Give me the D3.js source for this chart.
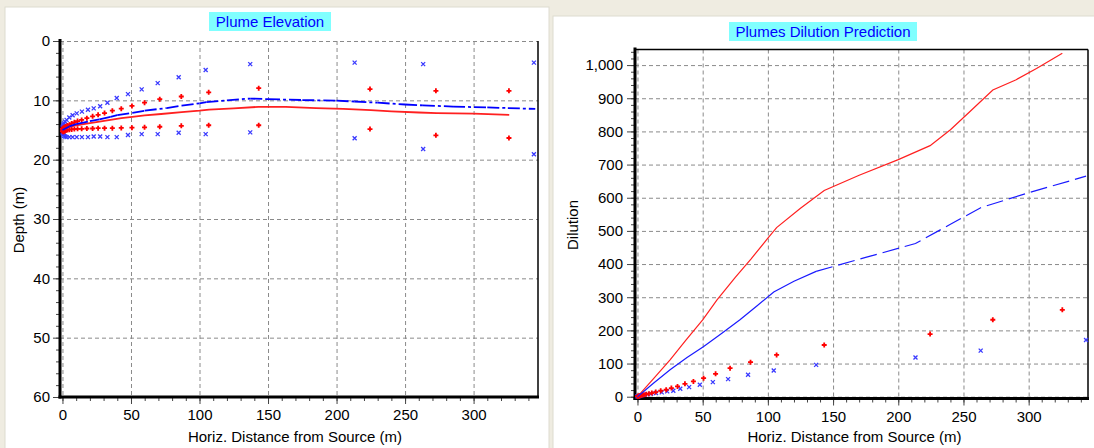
<!DOCTYPE html>
<html>
<head>
<meta charset="utf-8">
<script src="https://cdn.jsdelivr.net/npm/d3@7"></script>
<style>
body { margin: 0; background: #efece1; }
svg { display: block; font-family: "Liberation Sans", Arial, sans-serif; }
</style>
</head>
<body>
<svg id="chart" width="1094" height="448"></svg>
<script>
// plume 1 (red) sample distances, m  - same stations on both charts
var redDist = [0, 0.4, 0.9, 1.6, 2.5, 3.6, 5, 6.7, 8.7, 11, 14, 17.8, 22, 26, 30.7, 36.4, 42.9, 50.7, 59.9, 71, 86.7, 106.7, 143.2, 224.4, 272.5, 325.8];
var redUpper = [14.8, 14.7, 14.6, 14.5, 14.4, 14.25, 14.1, 13.9, 13.7, 13.5, 13.3, 13.0, 12.7, 12.45, 12.15, 11.75, 11.4, 10.95, 10.4, 9.8, 9.35, 8.65, 7.95, 8.1, 8.4, 8.4];
var redLower = [15.2, 15.3, 15.3, 15.2, 15.1, 15.0, 14.95, 14.9, 14.85, 14.8, 14.8, 14.75, 14.75, 14.7, 14.7, 14.7, 14.65, 14.6, 14.55, 14.45, 14.3, 14.2, 14.2, 14.85, 15.9, 16.35];
var redDilPts = [1, 1.5, 2, 3, 4, 5, 6, 7.5, 9, 11, 14, 18, 21, 26, 31, 39, 46, 56, 69, 86, 104, 126, 156, 189, 232, 262];

// plume 2 (blue)
var blueDist = [0, 0.3, 0.7, 1.2, 2, 3, 5, 7.4, 10.4, 14.2, 18.6, 22.8, 27.5, 32.8, 39.6, 47.8, 57.8, 69.5, 84.8, 104.5, 137, 213.2, 263.2, 344];
var blueUpper = [14.6, 14.4, 14.1, 13.9, 13.6, 13.3, 12.9, 12.5, 12.2, 11.9, 11.6, 11.35, 11.0, 10.4, 9.6, 8.95, 8.15, 7.1, 6.1, 4.9, 3.9, 3.65, 3.9, 3.65];
var blueLower = [15.4, 15.6, 15.8, 16.0, 16.1, 16.2, 16.2, 16.2, 16.2, 16.2, 16.2, 16.1, 16.1, 16.2, 16.2, 15.85, 15.7, 15.7, 15.45, 15.7, 15.4, 16.4, 18.2, 19.1];
var blueDilPts = [1, 1.3, 1.7, 2.2, 3, 4, 5.5, 7, 9, 11, 13, 16, 18, 24, 29, 36, 44, 53, 66, 79, 96, 118, 139, 171];

// centerlines
var redLineX = [0, 5, 10, 20, 27, 35, 43, 51, 60, 72, 87, 100, 107, 125, 143, 163, 185, 205, 225, 240, 260, 273, 300, 326];
var redLineDepth = [15.0, 14.5, 14.2, 13.85, 13.6, 13.3, 13.0, 12.8, 12.55, 12.3, 12.0, 11.75, 11.55, 11.35, 11.1, 11.1, 11.3, 11.45, 11.65, 11.85, 12.05, 12.15, 12.25, 12.45];
var blueLineX = [0, 5, 10, 20, 27, 35, 40, 51, 60, 76, 87, 100, 105, 120, 137, 150, 175, 200, 213, 230, 250, 263, 285, 310, 325, 345];
var blueLineDepth = [15.0, 14.4, 14.0, 13.5, 13.2, 12.8, 12.5, 12.1, 11.75, 11.3, 10.9, 10.5, 10.3, 10.0, 9.7, 9.8, 9.95, 10.05, 10.2, 10.4, 10.7, 10.85, 11.05, 11.2, 11.3, 11.45];

// dilution lines
var redDilLineX = [0, 12, 25, 37, 50, 61, 75, 87, 100, 106.7, 125, 143.2, 170, 200, 224.4, 240, 255, 272.5, 290, 306, 325.8];
var redDilLine = [0, 53, 111, 170, 232, 292, 360, 415, 478, 510, 568, 622, 668, 715, 757, 805, 860, 925, 955, 990, 1036];
var blueDilLineX = [0, 12, 25, 38, 50.5, 65, 78.6, 92, 104.5, 120, 137, 175, 213.2, 240, 263.2, 300, 344];
var blueDilLine = [0, 40, 81, 118, 151, 192, 232, 275, 316, 348, 378, 420, 462, 520, 570, 615, 665];

var xTicks = [0, 50, 100, 150, 200, 250, 300];
var depthTicks = [0, 10, 20, 30, 40, 50, 60];
var dilTicks = [0, 100, 200, 300, 400, 500, 600, 700, 800, 900, 1000];

var svg = d3.select("#chart");
var zip = (a, b) => a.map((v, i) => [v, b[i]]);

function drawPanel(o) {
    svg.append("rect").attr("x", o.panel[0]).attr("y", o.panel[1])
        .attr("width", o.panel[2]).attr("height", o.panel[3])
        .attr("fill", "#fff").attr("stroke", "#dedbd0");

    var x = d3.scaleLinear().domain(o.xDomain).range([o.left, o.right]);
    var y = d3.scaleLinear().domain(o.yDomain).range(o.yRange);
    var g = svg.append("g");

    // grid
    g.selectAll(null).data(xTicks).join("line")
        .attr("x1", d => x(d) + 0.5).attr("x2", d => x(d) + 0.5)
        .attr("y1", o.top).attr("y2", o.bottom)
        .attr("stroke", "#8a8a8a").attr("stroke-dasharray", "4,3");
    g.selectAll(null).data(o.yTicks).join("line")
        .attr("x1", o.left).attr("x2", o.right)
        .attr("y1", d => y(d) + 0.5).attr("y2", d => y(d) + 0.5)
        .attr("stroke", "#8a8a8a").attr("stroke-dasharray", "4,3");

    // frame
    g.append("line").attr("x1", o.right).attr("x2", o.right).attr("y1", o.top).attr("y2", o.bottom)
        .attr("stroke", "#000").attr("stroke-width", 1.5);
    if (o.topLine) {
        g.append("line").attr("x1", o.left).attr("x2", o.right).attr("y1", o.top).attr("y2", o.top)
            .attr("stroke", "#000").attr("stroke-width", 1.5);
    }

    // axes
    var yMinor = g.append("g").attr("transform", `translate(${o.left},0)`)
        .call(d3.axisLeft(y).tickValues(o.yMinor).tickSize(4).tickFormat(""));
    var yAxis = g.append("g").attr("transform", `translate(${o.left},0)`)
        .call(d3.axisLeft(y).tickValues(o.yTicks).tickSize(o.yTickSize).tickPadding(o.yPad).tickFormat(o.yFormat));
    var xMinor = g.append("g").attr("transform", `translate(0,${o.bottom})`)
        .call(d3.axisBottom(x).tickValues(d3.range(0, 341, 10)).tickSize(4).tickFormat(""));
    var xAxis = g.append("g").attr("transform", `translate(0,${o.bottom})`)
        .call(d3.axisBottom(x).tickValues(xTicks).tickSize(7).tickPadding(o.xPad));
    [yMinor, yAxis, xMinor, xAxis].forEach(a => {
        a.select(".domain").remove();
        a.selectAll("line").attr("stroke", "#444");
        a.selectAll("text").attr("font-size", 15).attr("fill", "#000")
            .attr("font-family", "'Liberation Sans', Arial, sans-serif");
    });

    g.append("line").attr("x1", o.left).attr("x2", o.left).attr("y1", o.top - 2).attr("y2", o.bottom + 1.5)
        .attr("stroke", "#000").attr("stroke-width", 3);
    g.append("line").attr("x1", o.left - 1.5).attr("x2", o.right + 1).attr("y1", o.bottom).attr("y2", o.bottom)
        .attr("stroke", "#000").attr("stroke-width", 3);

    // titles
    svg.append("rect").attr("x", o.titleBox[0]).attr("y", o.titleBox[1])
        .attr("width", o.titleBox[2]).attr("height", o.titleBox[3]).attr("fill", "#80ffff");
    svg.append("text").attr("x", o.titleBox[0] + o.titleBox[2] / 2).attr("y", o.titleBox[1] + 15)
        .attr("text-anchor", "middle").attr("font-size", 15).attr("fill", "#0000ff").text(o.title);
    svg.append("text").attr("x", (o.left + o.right) / 2 - o.xTitleShift).attr("y", 442)
        .attr("text-anchor", "middle").attr("font-size", 15).text("Horiz. Distance from Source (m)");
    svg.append("text").attr("transform", `translate(${o.yTitlePos[0]},${o.yTitlePos[1]}) rotate(-90)`)
        .attr("text-anchor", "middle").attr("font-size", 15).text(o.yTitle);

    return { g: g, x: x, y: y };
}

function plusMarks(p, pts, color) {
    p.g.selectAll(null).data(pts).join("path")
        .attr("transform", d => `translate(${p.x(d[0])},${p.y(d[1])})`)
        .attr("d", "M-2.5,0H2.5M0,-2.5V2.5")
        .attr("stroke", color).attr("stroke-width", 1.8).attr("fill", "none");
}
function crossMarks(p, pts, color) {
    p.g.selectAll(null).data(pts).join("path")
        .attr("transform", d => `translate(${p.x(d[0])},${p.y(d[1])})`)
        .attr("d", "M-2,-2L2,2M-2,2L2,-2")
        .attr("stroke", color).attr("stroke-width", 1.3).attr("fill", "none");
}
// dash pattern restarts on each segment, like the original plot
function segLine(p, pts, color, w, dash) {
    p.g.selectAll(null).data(d3.pairs(pts)).join("line")
        .attr("x1", d => p.x(d[0][0])).attr("y1", d => p.y(d[0][1]))
        .attr("x2", d => p.x(d[1][0])).attr("y2", d => p.y(d[1][1]))
        .attr("stroke", color).attr("stroke-width", w).attr("stroke-dasharray", dash);
}
function solidLine(p, pts, color, w, dash) {
    p.g.append("path").datum(pts)
        .attr("d", d3.line().x(d => p.x(d[0])).y(d => p.y(d[1])))
        .attr("fill", "none").attr("stroke", color).attr("stroke-width", w)
        .attr("stroke-dasharray", dash || null);
}

// left: plume elevation
var left = drawPanel({
    panel: [5, 7, 544, 445],
    left: 60, right: 538, top: 41, bottom: 397,
    xDomain: [-1.8, 347], yDomain: [0, 60], yRange: [41, 397],
    yTicks: depthTicks, yMinor: d3.range(0, 61, 2), yTickSize: 7, yPad: 3,
    yFormat: d3.format("d"), xPad: 5, topLine: false,
    titleBox: [209, 12, 122, 19], title: "Plume Elevation",
    xTitleShift: 4, yTitle: "Depth (m)", yTitlePos: [24, 220]
});
crossMarks(left, zip(blueDist, blueUpper), "#3a3aff");
crossMarks(left, zip(blueDist, blueLower), "#3a3aff");
plusMarks(left, zip(redDist, redUpper), "#ff0000");
plusMarks(left, zip(redDist, redLower), "#ff0000");
solidLine(left, zip(redLineX, redLineDepth), "#ff2020", 1.8);
segLine(left, zip(blueLineX, blueLineDepth), "#0000ff", 1.8, "12,3,3,3");

// right: dilution
var right = drawPanel({
    panel: [553, 16, 545, 436],
    left: 635, right: 1088, top: 49.5, bottom: 398.5,
    xDomain: [-1.9, 345.5], yDomain: [-5.4, 1047], yRange: [398.5, 49.5],
    yTicks: dilTicks, yMinor: d3.range(0, 1041, 20), yTickSize: 8, yPad: 4,
    yFormat: d3.format(","), xPad: 6, topLine: true,
    titleBox: [729, 22, 188, 19], title: "Plumes Dilution Prediction",
    xTitleShift: 7, yTitle: "Dilution", yTitlePos: [578, 225]
});
crossMarks(right, zip(blueDist, blueDilPts), "#3a3aff");
plusMarks(right, zip(redDist, redDilPts), "#ff0000");
solidLine(right, zip(redDilLineX, redDilLine), "#ff2020", 1.2);
// near field short segments render solid, far field shows the long dash
var bluePts = zip(blueDilLineX, blueDilLine);
var split = blueDilLineX.indexOf(137);
solidLine(right, bluePts.slice(0, split + 1), "#1a1aff", 1.2);
solidLine(right, bluePts.slice(split), "#1a1aff", 1.2, "17,6");
</script>
</body>
</html>
